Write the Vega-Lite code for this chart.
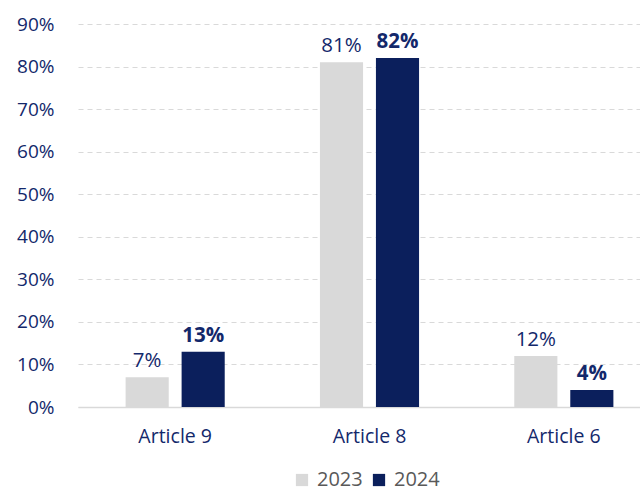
{
  "$schema": "https://vega.github.io/schema/vega-lite/v6.json",
  "autosize": "none",
  "padding": {"left": 78, "top": 24, "right": 0, "bottom": 88},
  "width": 583,
  "height": 383,
  "background": "white",
  "config": {
    "view": {"stroke": null},
    "font": "Open Sans"
  },
  "data": {
    "values": [
      {"article": "Article 9", "year": "2023", "share": 0.07},
      {"article": "Article 9", "year": "2024", "share": 0.13},
      {"article": "Article 8", "year": "2023", "share": 0.81},
      {"article": "Article 8", "year": "2024", "share": 0.82},
      {"article": "Article 6", "year": "2023", "share": 0.12},
      {"article": "Article 6", "year": "2024", "share": 0.04}
    ]
  },
  "encoding": {
    "x": {
      "field": "article", "type": "nominal", "sort": ["Article 9", "Article 8", "Article 6"],
      "scale": {"paddingInner": 0.49, "paddingOuter": 0.245},
      "axis": {"title": null, "labelAngle": 0, "labelFontSize": 19.5, "labelColor": "#13286b", "labelPadding": 20, "ticks": false, "domainColor": "#d9d9d9", "domainWidth": 1.5, "grid": false}
    },
    "xOffset": {"field": "year", "type": "nominal", "scale": {"paddingInner": 0.23, "paddingOuter": 0}},
    "y": {
      "field": "share", "type": "quantitative",
      "scale": {"domain": [0, 0.9], "nice": false},
      "axis": {"title": null, "format": ".0%", "values": [0, 0.1, 0.2, 0.3, 0.4, 0.5, 0.6, 0.7, 0.8, 0.9], "labelFontSize": 19, "labelColor": "#13286b", "labelPadding": 24, "ticks": false, "domain": false, "gridColor": "#d9d9d9", "gridDash": [5, 4], "gridWidth": 1.2}
    }
  },
  "layer": [
    {
      "mark": {"type": "bar"},
      "encoding": {
        "color": {
          "field": "year", "type": "nominal",
          "scale": {"domain": ["2023", "2024"], "range": ["#d9d9d9", "#0b1f5c"]},
          "legend": {"title": null, "orient": "none", "legendX": 214, "legendY": 446, "direction": "horizontal", "symbolType": "square", "symbolSize": 150, "symbolStrokeWidth": 0, "labelFontSize": 20, "labelColor": "#595959", "columnPadding": 6, "labelOffset": 5}
        }
      }
    },
    {
      "transform": [{"filter": "datum.year == '2023'"}],
      "mark": {"type": "text", "baseline": "bottom", "dy": -6, "fontSize": 20.5, "color": "#13286b"},
      "encoding": {"text": {"field": "share", "type": "quantitative", "format": ".0%"}}
    },
    {
      "transform": [{"filter": "datum.year == '2024'"}],
      "mark": {"type": "text", "baseline": "bottom", "dy": -6, "fontSize": 20.5, "fontWeight": "bold", "color": "#13286b"},
      "encoding": {"text": {"field": "share", "type": "quantitative", "format": ".0%"}}
    }
  ]
}
